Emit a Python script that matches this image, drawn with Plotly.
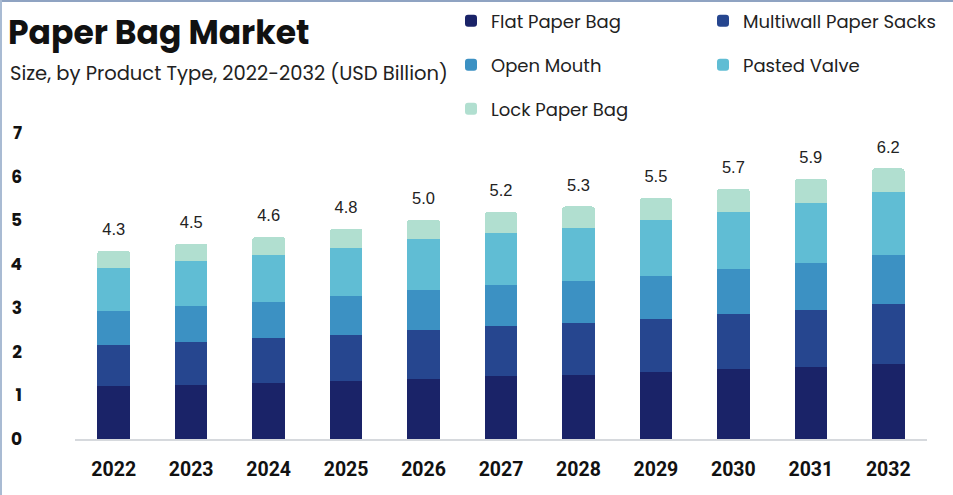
import plotly.graph_objects as go

years = ["2022", "2023", "2024", "2025", "2026", "2027", "2028", "2029", "2030", "2031", "2032"]
flat_paper_bag = [1.21, 1.23, 1.29, 1.32, 1.38, 1.43, 1.47, 1.53, 1.59, 1.64, 1.71]
multiwall_paper_sacks = [0.93, 0.99, 1.01, 1.06, 1.11, 1.15, 1.18, 1.22, 1.26, 1.31, 1.38]
open_mouth = [0.79, 0.82, 0.83, 0.88, 0.91, 0.94, 0.96, 0.99, 1.03, 1.08, 1.12]
pasted_valve = [0.98, 1.03, 1.07, 1.11, 1.18, 1.19, 1.22, 1.28, 1.31, 1.37, 1.44]
lock_paper_bag = [0.40, 0.40, 0.42, 0.44, 0.44, 0.48, 0.49, 0.49, 0.53, 0.55, 0.54]
total_labels = ["4.3", "4.5", "4.6", "4.8", "5.0", "5.2", "5.3", "5.5", "5.7", "5.9", "6.2"]

W, H = 953, 495
ML, MR, MT, MB = 75, 26, 133, 56
PW, PH = W - ML - MR, H - MT - MB


def px_x(p):
    return (p - ML) / PW


def px_y(p):
    return (H - MB - p) / PH


# (name, values, colour, legend id, legend left px, legend row centre px)
series = [
    ("Flat Paper Bag", flat_paper_bag, "#1a2368", "legend", 451, 21),
    ("Multiwall Paper Sacks", multiwall_paper_sacks, "#26468f", "legend2", 703, 21),
    ("Open Mouth", open_mouth, "#3c91c3", "legend3", 451, 65),
    ("Pasted Valve", pasted_valve, "#60bdd4", "legend4", 703, 65),
    ("Lock Paper Bag", lock_paper_bag, "#b1dfd0", "legend5", 451, 109),
]

fig = go.Figure()
legends = {}
for name, vals, color, leg, lpx, lpy in series:
    fig.add_trace(go.Bar(
        x=years, y=vals, name=name, marker=dict(color=color, line=dict(width=0)),
        legend=leg, hoverinfo="x+y+name",
    ))
    legends[leg] = dict(
        orientation="v", xref="paper", yref="paper", xanchor="left", yanchor="middle",
        x=px_x(lpx), y=px_y(lpy), bgcolor="rgba(0,0,0,0)",
        font=dict(family="Poppins, Open Sans, sans-serif", size=18, color="#222222"),
    )

totals = [sum(v) for v in zip(flat_paper_bag, multiwall_paper_sacks, open_mouth, pasted_valve, lock_paper_bag)]
fig.add_trace(go.Scatter(
    x=years, y=totals, mode="markers+text", text=total_labels, textposition="top center",
    marker=dict(size=17, opacity=0), showlegend=False, hoverinfo="skip",
    textfont=dict(family="Liberation Sans, Arial", size=16.5, color="#222222"),
))

# Title and subtitle
fig.add_annotation(xref="paper", yref="paper", x=px_x(6), y=px_y(32), xanchor="left", yanchor="middle",
                   text="<b>Paper Bag Market</b>", showarrow=False,
                   font=dict(family="Poppins, Open Sans, sans-serif", size=33, color="#111111"))
fig.add_annotation(xref="paper", yref="paper", x=px_x(8), y=px_y(73), xanchor="left", yanchor="middle",
                   text="Size, by Product Type, 2022-2032 (USD Billion)", showarrow=False,
                   font=dict(family="Poppins, Open Sans, sans-serif", size=19.5, color="#222222"))

# thin border on top and left edge
fig.add_shape(type="line", xref="paper", yref="paper", x0=px_x(0), x1=px_x(W), y0=px_y(1), y1=px_y(1),
              line=dict(color="#8fa3c2", width=2))
fig.add_shape(type="line", xref="paper", yref="paper", x0=px_x(1), x1=px_x(1), y0=px_y(0), y1=px_y(H),
              line=dict(color="#a9bbd3", width=2))

fig.update_layout(
    width=W, height=H,
    margin=dict(l=ML, r=MR, t=MT, b=MB, autoexpand=False),
    paper_bgcolor="white", plot_bgcolor="white",
    barmode="stack", bargap=0.58, barcornerradius=3,
    showlegend=True,
    xaxis=dict(type="category", range=[-0.5, len(years) - 0.5], showline=True, linecolor="#d6d9dd",
               linewidth=1.5, showgrid=False, ticks="",
               tickfont=dict(family="Roboto, sans-serif", size=19.5, color="#111111", weight="bold"),
               ticklabelstandoff=12),
    yaxis=dict(range=[0, 7], dtick=1, showgrid=False, zeroline=False, showline=False, ticks="",
               tickfont=dict(family="Poppins, Open Sans, sans-serif", size=17, color="#111111", weight="bold"),
               ticklabelstandoff=52),
    **legends,
)

fig.write_html("out.html")
